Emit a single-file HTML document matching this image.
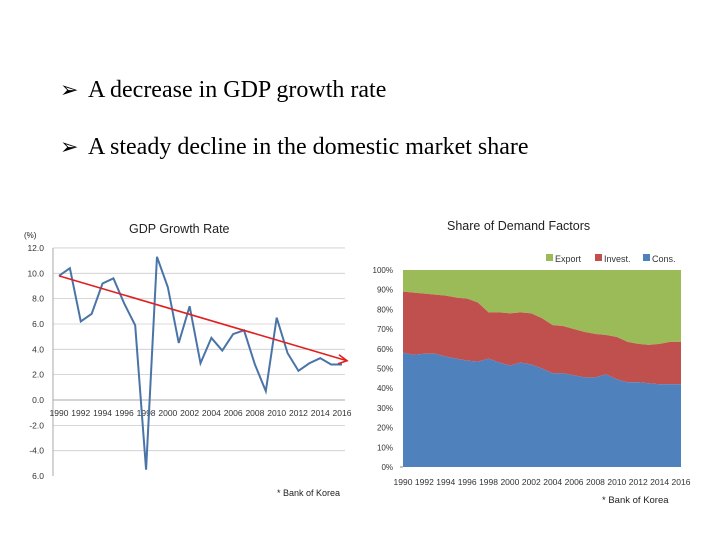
<!DOCTYPE html>
<html><head><meta charset="utf-8"><style>
body{margin:0;width:720px;height:540px;background:#fff;overflow:hidden;font-family:"Liberation Serif",serif}
.b{position:absolute;left:88px;font-size:24px;color:#000;white-space:nowrap}
.ar{position:absolute;left:60px;font-size:22px;font-family:"DejaVu Sans",sans-serif;color:#000}
svg text{font-family:"Liberation Sans","DejaVu Sans",sans-serif}
</style></head><body>
<div class="ar" style="top:78px">➢</div>
<div class="b" style="top:77px">A decrease in GDP growth rate</div>
<div class="ar" style="top:135px">➢</div>
<div class="b" style="top:134px">A steady decline in the domestic market share</div>
<svg id="c" width="720" height="540" style="position:absolute;left:0;top:0"></svg>
<script>
const years=[1990,1991,1992,1993,1994,1995,1996,1997,1998,1999,2000,2001,2002,2003,2004,2005,2006,2007,2008,2009,2010,2011,2012,2013,2014,2015,2016];
const gdp=[9.8,10.4,6.2,6.8,9.2,9.6,7.6,5.9,-5.5,11.3,8.9,4.5,7.4,2.9,4.9,3.9,5.2,5.5,2.8,0.7,6.5,3.7,2.3,2.9,3.3,2.8,2.8];
const gdpTicks=[12,10,8,6,4,2,0,-2,-4,-6];
const gdpTickLabels=["12.0","10.0","8.0","6.0","4.0","2.0","0.0","-2.0","-4.0","6.0"];
const trend=[9.8,3.1];
const cons=[58,57,57.5,57.5,56,55,54,53.5,55,53,51.5,53,52,50,47.5,47.5,46.5,45.5,45.5,47,44.5,43,43,42.5,42,42,42];
const invest=[31,31.5,30.5,30,31,31,31.5,30,23.5,25.5,26.5,25.5,26,25.5,24.5,24,23.5,23,22,20,21.5,20.5,19.5,19.5,20.5,21.5,21.5];
const shareTicks=[0,10,20,30,40,50,60,70,80,90,100];
const NS="http://www.w3.org/2000/svg",svg=document.getElementById('c');
function mk(t,a,txt){const e=document.createElementNS(NS,t);for(const k in a)e.setAttribute(k,a[k]);if(txt!==undefined)e.textContent=txt;svg.appendChild(e);return e;}
// GDP chart
const gx=i=>59+i*(283/26), gy=v=>400-v*12.67;
mk('text',{x:129,y:233,'font-size':12.5,fill:'#222'},'GDP Growth Rate');
mk('text',{x:24,y:238,'font-size':8,fill:'#222'},'(%)');
gdpTicks.forEach((t,i)=>{
 if(t!==0&&t>-6){const l=mk('line',{x1:53,x2:345,y1:gy(t),y2:gy(t),stroke:'#ccc','stroke-width':0.8});}
 const tx=mk('text',{x:44,y:gy(t)+3,'font-size':8.5,fill:'#333','text-anchor':'end'},gdpTickLabels[i]);
 
});
mk('line',{x1:53,x2:53,y1:gy(12),y2:gy(-6),stroke:'#aaa'});
mk('line',{x1:53,x2:345,y1:gy(0),y2:gy(0),stroke:'#aaa'});
years.forEach((y,i)=>{if(i%2===0){const t=mk('text',{x:gx(i),y:416,'font-size':8.5,fill:'#333','text-anchor':'middle'},y);}});
const gl=mk('polyline',{points:gdp.map((v,i)=>gx(i)+','+gy(v)).join(' '),fill:'none',stroke:'#4a74a8','stroke-width':2});

const tx2=gx(26)+5;
mk('line',{x1:gx(0),y1:gy(trend[0]),x2:tx2,y2:gy(trend[1]),stroke:'#e02020','stroke-width':1.6});
mk('polyline',{points:`${tx2-8},${gy(trend[1])-6} ${tx2},${gy(trend[1])} ${tx2-9},${gy(trend[1])+3}`,fill:'none',stroke:'#e02020','stroke-width':1.6});
mk('text',{x:277,y:496,'font-size':9,fill:'#222'},'* Bank of Korea');
// Share chart
const sx=i=>403+i*(278/26), sy=v=>467-v*1.97;
mk('text',{x:447,y:230,'font-size':12.5,fill:'#222'},'Share of Demand  Factors');
const topVals=cons.map((c,i)=>c+invest[i]);
function area(lo,hi,col,name){let p=hi.map((v,i)=>sx(i)+','+sy(v));for(let i=lo.length-1;i>=0;i--)p.push(sx(i)+','+sy(lo[i]));const e=mk('polygon',{points:p.join(' '),fill:col});}
area(topVals,topVals.map(()=>100),'#9bbb59','area-export');
area(cons,topVals,'#c0504d','area-invest');
area(cons.map(()=>0),cons,'#4f81bd','area-cons');
shareTicks.forEach(t=>{const e=mk('text',{x:393,y:sy(t)+3,'font-size':8,fill:'#333','text-anchor':'end'},t+'%');});
mk('line',{x1:400,x2:403,y1:sy(0),y2:sy(0),stroke:'#888'});
years.forEach((y,i)=>{if(i%2===0){const t=mk('text',{x:sx(i),y:485,'font-size':8.5,fill:'#333','text-anchor':'middle'},y);}});
[['Export','#9bbb59',546],['Invest.','#c0504d',595],['Cons.','#4f81bd',643]].forEach(([n,c,x])=>{
 const r=mk('rect',{x:x,y:254,width:7,height:7,fill:c});
 const t=mk('text',{x:x+9,y:262,'font-size':9,fill:'#333'},n);
});
mk('text',{x:602,y:503,'font-size':9.5,fill:'#222'},'* Bank of Korea');
</script>
</body></html>
